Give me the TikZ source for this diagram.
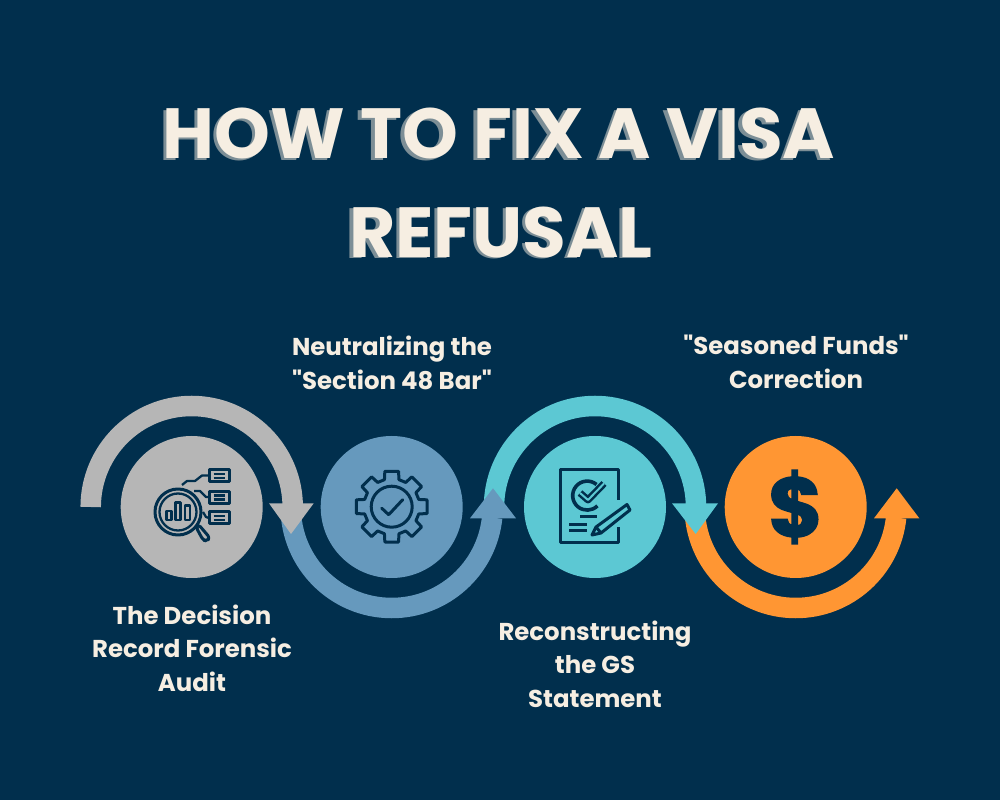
\documentclass[tikz,border=0pt]{standalone}
\usepackage{fontspec}
\setmainfont{Poppins}[Ligatures=TeXOff]
\definecolor{bgc}{HTML}{012F4D}
\definecolor{grayc}{HTML}{B6B6B6}
\definecolor{bluec}{HTML}{6699BD}
\definecolor{tealc}{HTML}{5CC8D3}
\definecolor{orangec}{HTML}{FF9633}
\definecolor{textc}{HTML}{F6EEE2}
\definecolor{shadowc}{HTML}{7C8E96}
\tikzset{
  band/.style={line width=20.5pt},
  disc/.style={circle,minimum size=142pt,inner sep=0pt,outer sep=0pt},
  ttl/.style={font=\fontsize{71}{71}\selectfont\bfseries,inner sep=0pt,anchor=base},
  lbl/.style={font=\fontsize{24.4}{33.5}\selectfont\bfseries,text=textc,align=center,inner sep=0pt,anchor=base},
  icon/.style={draw=bgc,line width=3pt,line join=round},
  thin icon/.style={draw=bgc,line width=2.3pt,line join=round}
}
\begin{document}
\begin{tikzpicture}[x=1pt,y=1pt]
\useasboundingbox (0,0) rectangle (1000,800);
\fill[bgc] (0,0) rectangle (1000,800);
% arcs (y upward)
\draw[band,orangec] (694.7,293) arc[start angle=180,end angle=354,radius=101];
\fill[orangec] (874,281.7) -- (919.3,281.7) -- (896.7,311.7) -- cycle;
\draw[band,tealc] (494,293) arc[start angle=180,end angle=0,radius=101];
\fill[tealc] (672,296.7) -- (718,296.7) -- (695.7,266) -- cycle;
\draw[band,bluec] (290.7,293) arc[start angle=180,end angle=354,radius=101];
\fill[bluec] (470,281.7) -- (516,281.7) -- (493,311.7) -- cycle;
\draw[band,grayc] (90.7,293) arc[start angle=180,end angle=0,radius=101];
\fill[grayc] (269,296.7) -- (313.7,296.7) -- (291,266) -- cycle;
\begin{scope}[shift={(0,800)},y=-1pt]
% title
\node[ttl,text=shadowc] (t1s) at (495.5,160.5) {HOW TO FIX A VISA};
\node[ttl,text=shadowc] (t2s) at (497.5,259) {REFUSAL};
\node[ttl,text=textc] (t1) at (499,159) {HOW TO FIX A VISA};
\node[ttl,text=textc] (t2) at (501,257.5) {REFUSAL};
% discs
\node[disc,fill=grayc] (c1) at (191.7,507) {};
\node[disc,fill=bluec] (c2) at (391.7,507) {};
\node[disc,fill=tealc] (c3) at (595,507) {};
\node[disc,fill=orangec] (c4) at (795.7,507) {};
% labels
\node[lbl] (l1) at (192,691) {The Decision\\Record Forensic\\Audit};
\node[lbl] (l2) at (392,389.5) {Neutralizing the\\"Section 48 Bar"};
\node[lbl] (l3) at (595,707.5) {Reconstructing\\the GS\\Statement};
\node[lbl] (l4) at (796,388.5) {"Seasoned Funds"\\Correction};
% dollar
\node[font=\fontsize{84}{84}\selectfont\bfseries,text=bgc,draw=none,inner sep=0pt] (d) at (795.7,507) {\special{pdf:literal 2 Tr 1.3 w}\$\special{pdf:literal 0 Tr}};
% magnifier icon
\draw[icon] (178,512) circle[radius=23];
\draw[thin icon] (178,512) circle[radius=18.5];
\draw[thin icon] (166.5,520) rectangle (171.5,511);
\draw[thin icon] (175.5,520) rectangle (180.5,502.5);
\draw[thin icon] (185,520) rectangle (190,505.5);
\draw[icon,line cap=round,rounded corners=3pt] (196,527) -- (198.5,524.5) -- (210,538) -- (206.5,541) -- (203,540) -- cycle;
\foreach \yy in {470,491.5,512}{
  \draw[icon] (209,\yy) rectangle (229,\yy+12);
  \draw[thin icon] (213.5,\yy+4) -- (224.5,\yy+4);
  \draw[thin icon] (213.5,\yy+8) -- (224.5,\yy+8);
}
\draw[thin icon] (182,485) -- (187,481) -- (195,481) -- (202,475.5) -- (209,475.5);
\draw[thin icon] (194,491) -- (200,491) -- (206,497) -- (209,497);
\draw[thin icon] (203,512) -- (206,517) -- (209,518);
% gear icon
\begin{scope}[shift={(391.7,506.7)}]
\draw[icon] (79:36)
  \foreach \k in {0,45,...,315} {
    -- (\k+79:36) -- (\k+101:36) -- (\k+105:28) -- (\k+120:28) }
  -- cycle;
\draw[icon] (0,0) circle[radius=20.5];
\draw[icon,line cap=round] (-10,1.5) -- (-3,8) -- (11,-7);
\end{scope}
% document icon
\draw[icon,line cap=butt] (618,500) -- (618,470) -- (560,470) -- (560,543) -- (618,543) -- (618,527);
\draw[icon,line width=3.6pt] (596.5,484.5) arc[start angle=-50,end angle=-315,radius=14.5];
\draw[icon,line width=7pt] (580,493) -- (588,500) -- (604,483.5);
\draw[draw=tealc,line width=2pt,line join=round] (580,493) -- (588,500) -- (604,483.5);
\draw[icon] (580,517) -- (597,517);
\draw[icon] (569,524.5) -- (587,524.5);
\draw[icon] (569,531) -- (587,531);
\draw[icon] (596,527) -- (627,504.5) -- (630,510) -- (601,533) -- (592,535) -- cycle;
\draw[icon] (596,527) -- (601,533);
\end{scope}
\end{tikzpicture}
\end{document}
